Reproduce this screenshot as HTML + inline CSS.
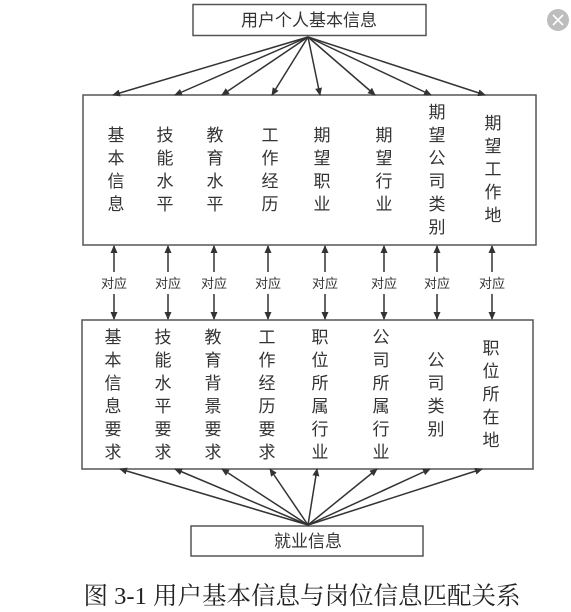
<!DOCTYPE html>
<html><head><meta charset="utf-8"><style>
html,body{margin:0;padding:0;background:#fff;width:571px;height:612px;overflow:hidden}
svg text{font-family:"Liberation Sans","Noto Sans CJK SC",sans-serif;fill:#333}
</style></head><body>
<svg width="571" height="612" viewBox="0 0 571 612" xmlns="http://www.w3.org/2000/svg">
<defs>
<marker id="a" markerWidth="8" markerHeight="8" refX="7" refY="4" orient="auto" markerUnits="userSpaceOnUse">
<path d="M0,0.5 L8,4 L0,7.5 Z" fill="#333"/></marker>
</defs>
<circle cx="558" cy="20" r="11" fill="#bdbdbd"/>
<path d="M553,15 L563,25 M563,15 L553,25" stroke="#fff" stroke-width="1.6"/>
<g fill="none" stroke="#555" stroke-width="1.5">
<rect x="193" y="4.5" width="233" height="31"/>
<rect x="83" y="95" width="453" height="150"/>
<rect x="82" y="320" width="451" height="149"/>
<rect x="191" y="526" width="232" height="30"/>
</g>
<g stroke="#333" stroke-width="1.5" marker-end="url(#a)">
<line x1="308" y1="37" x2="113" y2="95"/>
<line x1="308" y1="37" x2="175" y2="95"/>
<line x1="308" y1="37" x2="222" y2="95"/>
<line x1="308" y1="37" x2="272" y2="95"/>
<line x1="308" y1="37" x2="320" y2="95"/>
<line x1="308" y1="37" x2="375" y2="95"/>
<line x1="308" y1="37" x2="431" y2="95"/>
<line x1="308" y1="37" x2="485" y2="95"/>
<line x1="308" y1="525" x2="120" y2="469"/>
<line x1="308" y1="525" x2="175" y2="469"/>
<line x1="308" y1="525" x2="222" y2="469"/>
<line x1="308" y1="525" x2="270" y2="469"/>
<line x1="308" y1="525" x2="317" y2="469"/>
<line x1="308" y1="525" x2="377" y2="469"/>
<line x1="308" y1="525" x2="430" y2="469"/>
<line x1="308" y1="525" x2="482" y2="469"/>
</g>
<g stroke="#333" stroke-width="1.5" marker-end="url(#a)">
<line x1="114" y1="272" x2="114" y2="246"/><line x1="114" y1="294" x2="114" y2="319"/>
<line x1="168" y1="272" x2="168" y2="246"/><line x1="168" y1="294" x2="168" y2="319"/>
<line x1="214" y1="272" x2="214" y2="246"/><line x1="214" y1="294" x2="214" y2="319"/>
<line x1="268" y1="272" x2="268" y2="246"/><line x1="268" y1="294" x2="268" y2="319"/>
<line x1="325" y1="272" x2="325" y2="246"/><line x1="325" y1="294" x2="325" y2="319"/>
<line x1="384" y1="272" x2="384" y2="246"/><line x1="384" y1="294" x2="384" y2="319"/>
<line x1="437" y1="272" x2="437" y2="246"/><line x1="437" y1="294" x2="437" y2="319"/>
<line x1="492" y1="272" x2="492" y2="246"/><line x1="492" y1="294" x2="492" y2="319"/>
</g>
<g font-size="13" text-anchor="middle">
<text x="114" y="288">对应</text><text x="168" y="288">对应</text><text x="214" y="288">对应</text><text x="268" y="288">对应</text>
<text x="325" y="288">对应</text><text x="384" y="288">对应</text><text x="437" y="288">对应</text><text x="492" y="288">对应</text>
</g>
<g font-size="17" text-anchor="middle">
<text x="309" y="26">用户个人基本信息</text>
<text x="308" y="547">就业信息</text>
</g>
<g font-size="17" text-anchor="middle">
<text x="116" y="141"><tspan x="116">基</tspan><tspan x="116" dy="23">本</tspan><tspan x="116" dy="23">信</tspan><tspan x="116" dy="23">息</tspan></text>
<text x="165" y="141"><tspan x="165">技</tspan><tspan x="165" dy="23">能</tspan><tspan x="165" dy="23">水</tspan><tspan x="165" dy="23">平</tspan></text>
<text x="215" y="141"><tspan x="215">教</tspan><tspan x="215" dy="23">育</tspan><tspan x="215" dy="23">水</tspan><tspan x="215" dy="23">平</tspan></text>
<text x="270" y="141"><tspan x="270">工</tspan><tspan x="270" dy="23">作</tspan><tspan x="270" dy="23">经</tspan><tspan x="270" dy="23">历</tspan></text>
<text x="322" y="141"><tspan x="322">期</tspan><tspan x="322" dy="23">望</tspan><tspan x="322" dy="23">职</tspan><tspan x="322" dy="23">业</tspan></text>
<text x="384" y="141"><tspan x="384">期</tspan><tspan x="384" dy="23">望</tspan><tspan x="384" dy="23">行</tspan><tspan x="384" dy="23">业</tspan></text>
<text x="437" y="118"><tspan x="437">期</tspan><tspan x="437" dy="23">望</tspan><tspan x="437" dy="23">公</tspan><tspan x="437" dy="23">司</tspan><tspan x="437" dy="23">类</tspan><tspan x="437" dy="23">别</tspan></text>
<text x="493" y="129"><tspan x="493">期</tspan><tspan x="493" dy="23">望</tspan><tspan x="493" dy="23">工</tspan><tspan x="493" dy="23">作</tspan><tspan x="493" dy="23">地</tspan></text>

<text y="343"><tspan x="113">基</tspan><tspan x="113" dy="23">本</tspan><tspan x="113" dy="23">信</tspan><tspan x="113" dy="23">息</tspan><tspan x="113" dy="23">要</tspan><tspan x="113" dy="23">求</tspan></text>
<text y="343"><tspan x="163">技</tspan><tspan x="163" dy="23">能</tspan><tspan x="163" dy="23">水</tspan><tspan x="163" dy="23">平</tspan><tspan x="163" dy="23">要</tspan><tspan x="163" dy="23">求</tspan></text>
<text y="343"><tspan x="213">教</tspan><tspan x="213" dy="23">育</tspan><tspan x="213" dy="23">背</tspan><tspan x="213" dy="23">景</tspan><tspan x="213" dy="23">要</tspan><tspan x="213" dy="23">求</tspan></text>
<text y="343"><tspan x="267">工</tspan><tspan x="267" dy="23">作</tspan><tspan x="267" dy="23">经</tspan><tspan x="267" dy="23">历</tspan><tspan x="267" dy="23">要</tspan><tspan x="267" dy="23">求</tspan></text>
<text y="343"><tspan x="320">职</tspan><tspan x="320" dy="23">位</tspan><tspan x="320" dy="23">所</tspan><tspan x="320" dy="23">属</tspan><tspan x="320" dy="23">行</tspan><tspan x="320" dy="23">业</tspan></text>
<text y="343"><tspan x="381">公</tspan><tspan x="381" dy="23">司</tspan><tspan x="381" dy="23">所</tspan><tspan x="381" dy="23">属</tspan><tspan x="381" dy="23">行</tspan><tspan x="381" dy="23">业</tspan></text>
<text y="366"><tspan x="436">公</tspan><tspan x="436" dy="23">司</tspan><tspan x="436" dy="23">类</tspan><tspan x="436" dy="23">别</tspan></text>
<text y="354"><tspan x="491">职</tspan><tspan x="491" dy="23">位</tspan><tspan x="491" dy="23">所</tspan><tspan x="491" dy="23">在</tspan><tspan x="491" dy="23">地</tspan></text>
</g>
<text x="302" y="604" font-size="24.5" text-anchor="middle" style="font-family:'Liberation Serif','Noto Serif CJK SC',serif;fill:#222">图 3-1 用户基本信息与岗位信息匹配关系</text>
</svg>
</body></html>
